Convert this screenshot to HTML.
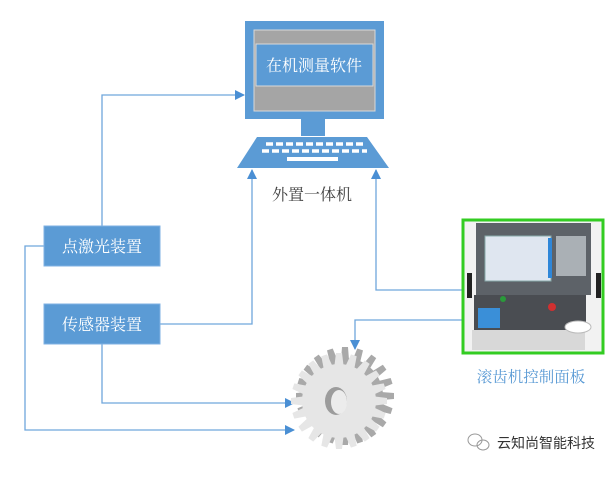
<!DOCTYPE html>
<html><head><meta charset="utf-8"><style>
body{margin:0;background:#fff;width:614px;height:473px;overflow:hidden;font-family:"Liberation Serif","Noto Serif CJK SC",serif;}
</style></head><body>
<svg width="614" height="473" viewBox="0 0 614 473" xmlns="http://www.w3.org/2000/svg">
<defs>
<marker id="a" markerWidth="10" markerHeight="10" refX="9" refY="5" orient="auto" markerUnits="userSpaceOnUse"><path d="M0,0 L10,5 L0,10 Z" fill="#4a8fd4"/></marker>
<path id="tb" d="M-4,-36 L-3,-49 L3,-49 L4,-36 Z" fill="#a9a9a9"/>
<path id="tf" d="M-4.5,-36 L-3,-48 L3,-48 L4.5,-36 Z" fill="#e6e6e6"/>
</defs>
<g stroke="#6fa6dc" stroke-width="1.3" fill="none">
<polyline points="102,226 102,95 244,95" marker-end="url(#a)"/>
<polyline points="44,246 25,246 25,430 294,430" marker-end="url(#a)"/>
<polyline points="102,344 102,403 294,403" marker-end="url(#a)"/>
<polyline points="160,324 252,324 252,170" marker-end="url(#a)"/>
<polyline points="463,290 376,290 376,170" marker-end="url(#a)"/>
<polyline points="463,320 355,320 355,349" marker-end="url(#a)"/>
</g>
<!-- computer -->
<rect x="245" y="21" width="139" height="98" fill="#5b9bd5"/>
<rect x="254" y="30" width="121" height="81" fill="#a5a5a5" stroke="#d9d9d9" stroke-width="1"/>
<rect x="256" y="44" width="117" height="42" fill="#5b9bd5" stroke="#d9d9d9" stroke-width="1"/>
<text x="314" y="71" font-size="16" fill="#fff" text-anchor="middle">在机测量软件</text>
<rect x="301" y="119" width="24" height="17" fill="#5b9bd5"/>
<polygon points="257,137 367,137 389,168 237,168" fill="#5b9bd5"/>
<g stroke="#fff" stroke-width="3.5" stroke-dasharray="7,3">
<line x1="266" y1="144" x2="364" y2="144"/>
<line x1="262" y1="151" x2="367" y2="151"/>
</g>
<rect x="287" y="157" width="51" height="4" fill="#fff"/>
<text x="312" y="200" font-size="16" fill="#404040" text-anchor="middle">外置一体机</text>
<!-- boxes -->
<rect x="44" y="226" width="116" height="40" fill="#5b9bd5" stroke="#7fb2e3"/>
<text x="102" y="252" font-size="16" fill="#fff" text-anchor="middle">点激光装置</text>
<rect x="44" y="304" width="116" height="40" fill="#5b9bd5" stroke="#7fb2e3"/>
<text x="102" y="330" font-size="16" fill="#fff" text-anchor="middle">传感器装置</text>
<!-- panel -->
<rect x="463" y="220" width="140" height="133" fill="#f2f2f2" stroke="#33cc22" stroke-width="3"/>
<rect x="476" y="223" width="115" height="72" fill="#5d6268"/>
<rect x="485" y="236" width="66" height="45" fill="#dfe6f0" stroke="#8aa"/>
<rect x="548" y="238" width="4" height="40" fill="#2e86d8"/>
<rect x="556" y="236" width="30" height="40" fill="#aab0b5"/>
<rect x="474" y="295" width="112" height="35" fill="#4a4d52"/>
<rect x="478" y="308" width="22" height="20" fill="#3a8fd8"/>
<rect x="467" y="273" width="5" height="25" fill="#222"/>
<rect x="596" y="273" width="5" height="25" fill="#222"/>
<rect x="472" y="330" width="113" height="20" fill="#d8d8d8"/>
<ellipse cx="578" cy="327" rx="13" ry="6" fill="#fff" stroke="#bbb"/>
<circle cx="503" cy="299" r="3" fill="#2a9a3a"/><circle cx="552" cy="307" r="4" fill="#d03030"/>
<text x="531" y="382" font-size="15.5" fill="#5b9bd5" text-anchor="middle">滚齿机控制面板</text>
<!-- gear -->
<g transform="translate(345,396)">
<circle r="38" fill="#a9a9a9"/>
<use href="#tb"/><use href="#tb" transform="rotate(18)"/><use href="#tb" transform="rotate(36)"/><use href="#tb" transform="rotate(54)"/><use href="#tb" transform="rotate(72)"/><use href="#tb" transform="rotate(90)"/><use href="#tb" transform="rotate(108)"/><use href="#tb" transform="rotate(126)"/><use href="#tb" transform="rotate(144)"/><use href="#tb" transform="rotate(162)"/><use href="#tb" transform="rotate(180)"/><use href="#tb" transform="rotate(198)"/><use href="#tb" transform="rotate(216)"/><use href="#tb" transform="rotate(234)"/><use href="#tb" transform="rotate(252)"/><use href="#tb" transform="rotate(270)"/><use href="#tb" transform="rotate(288)"/><use href="#tb" transform="rotate(306)"/><use href="#tb" transform="rotate(324)"/><use href="#tb" transform="rotate(342)"/>
</g>
<g transform="translate(339,401)">
<circle r="37" fill="#e6e6e6"/>
<use href="#tf"/><use href="#tf" transform="rotate(18)"/><use href="#tf" transform="rotate(36)"/><use href="#tf" transform="rotate(54)"/><use href="#tf" transform="rotate(72)"/><use href="#tf" transform="rotate(90)"/><use href="#tf" transform="rotate(108)"/><use href="#tf" transform="rotate(126)"/><use href="#tf" transform="rotate(144)"/><use href="#tf" transform="rotate(162)"/><use href="#tf" transform="rotate(180)"/><use href="#tf" transform="rotate(198)"/><use href="#tf" transform="rotate(216)"/><use href="#tf" transform="rotate(234)"/><use href="#tf" transform="rotate(252)"/><use href="#tf" transform="rotate(270)"/><use href="#tf" transform="rotate(288)"/><use href="#tf" transform="rotate(306)"/><use href="#tf" transform="rotate(324)"/><use href="#tf" transform="rotate(342)"/>
<ellipse cx="-3" cy="0" rx="11" ry="14" fill="#9c9c9c"/>
<ellipse cx="0" cy="1" rx="8" ry="12" fill="#ececec"/>
</g>
<!-- watermark -->
<g stroke="#999" fill="none" stroke-width="1">
<ellipse cx="475" cy="440" rx="7" ry="6"/><ellipse cx="483" cy="445" rx="6" ry="5"/>
</g>
<text x="497" y="448" font-size="14" fill="#333" font-family="Liberation Sans,Noto Sans CJK SC,sans-serif">云知尚智能科技</text>
</svg>
</body></html>
